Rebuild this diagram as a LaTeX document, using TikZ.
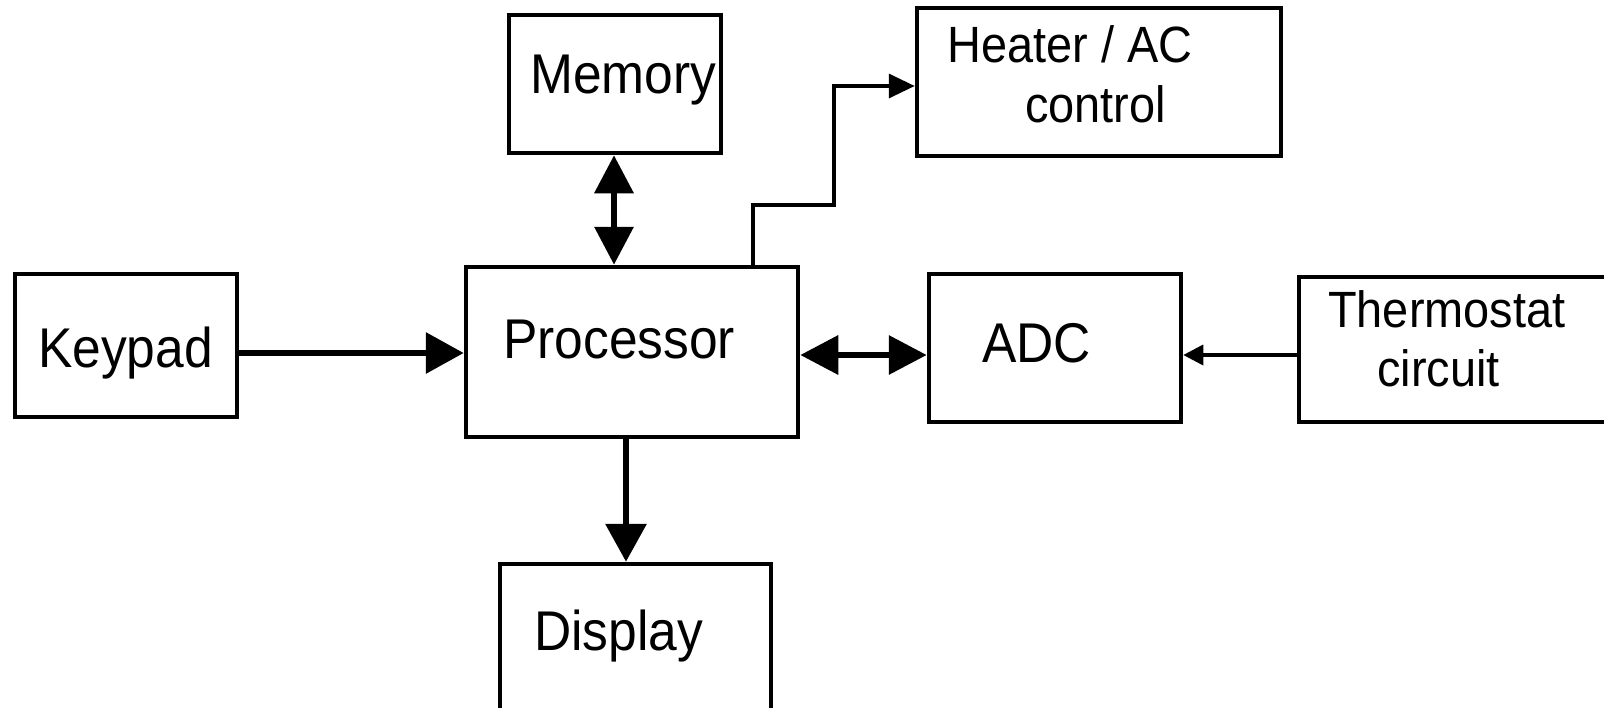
\documentclass[tikz,border=0pt]{standalone}
\usepackage{fontspec}
\setmainfont{Liberation Sans}[FakeStretch=0.92]
\usetikzlibrary{arrows.meta}
\begin{document}
\begin{tikzpicture}[x=1pt,y=-1pt,
  blk/.style={draw=black,line width=4.5pt,inner sep=0pt,rectangle},
  lbl/.style={anchor=base west,inner sep=0pt,font=\fontsize{56}{64}\selectfont},
  slbl/.style={anchor=base west,inner sep=0pt,font=\fontsize{51}{60}\selectfont},
  thick conn/.style={line width=6.5pt},
  thin conn/.style={line width=3.5pt},
  bigtip/.style={-{Triangle[length=38pt,width=40pt]}},
  bigboth/.style={{Triangle[length=38pt,width=38pt]}-{Triangle[length=38pt,width=38pt]}},
  midtip/.style={-{Triangle[length=26pt,width=24pt]}},
  smalltip/.style={-{Triangle[length=20pt,width=20pt]}}]
\useasboundingbox (0,0) rectangle (1604,707);
% boxes
\node[blk,minimum width=212pt,minimum height=138pt] (mem) at (615,84) {};
\node[blk,minimum width=364pt,minimum height=148pt] (heat) at (1099,82) {};
\node[blk,minimum width=222pt,minimum height=143pt] (key) at (126,345.5) {};
\node[blk,minimum width=332pt,minimum height=170pt] (proc) at (632,352) {};
\node[blk,minimum width=252pt,minimum height=148pt] (adc) at (1055,348) {};
\node[blk,minimum width=320pt,minimum height=145pt] (therm) at (1459,349.5) {};
\node[blk,minimum width=271pt,minimum height=160pt] (disp) at (635.5,644) {};
% labels
\node[lbl] (memt) at (530,93) {Memory};
\node[slbl] (heatt1) at (947,62) {Heater / AC};
\node[slbl] (heatt2) at (1025,122) {control};
\node[lbl] (keyt) at (38,367) {Keypad};
\node[lbl] (proct) at (503,358) {Processor};
\node[lbl] (adct) at (982,362) {ADC};
\node[slbl] (thermt1) at (1328,327) {Thermostat};
\node[slbl] (thermt2) at (1377,386) {circuit};
\node[lbl] (dispt) at (534,650) {Display};
% connectors
\coordinate (kp) at (key.east |- 0,353);
\coordinate (pk) at (proc.west |- 0,353);
\draw[thick conn,bigtip] (kp) -- (pk);
\draw[thick conn,bigboth] (mem.south -| 614,0) -- (proc.north -| 614,0);
\draw[thick conn,bigtip] (proc.south -| 626,0) -- (disp.north -| 626,0);
\draw[thick conn,bigboth] (proc.east |- 0,355) -- (adc.west |- 0,355);
\draw[thin conn,smalltip] (therm.west |- 0,355) -- (adc.east |- 0,355);
\coordinate (h1) at (753,205);
\coordinate (h2) at (834,205);
\coordinate (h3) at (834,86);
\draw[thin conn,midtip] (proc.north -| 753,0) -- (h1) -- (h2) -- (h3) -- (heat.west |- h3);
\end{tikzpicture}
\end{document}
